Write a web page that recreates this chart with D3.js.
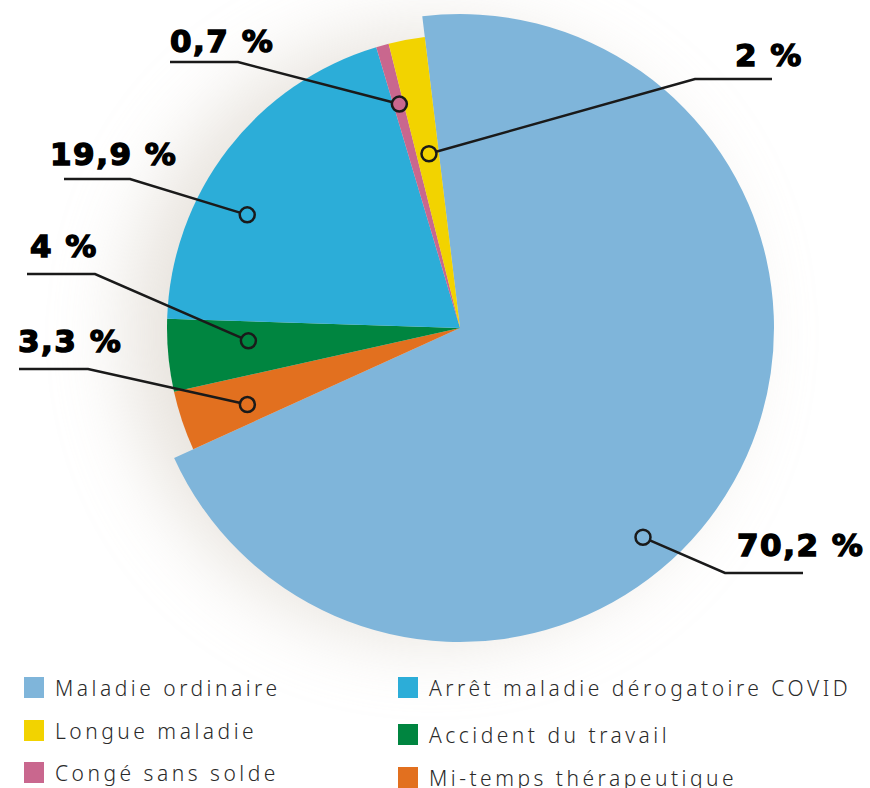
<!DOCTYPE html>
<html>
<head>
<meta charset="utf-8">
<script src="https://cdn.jsdelivr.net/npm/d3@7"></script>
<style>
  body { margin: 0; background: #fff; }
  svg { display: block; }
</style>
</head>
<body>
<script>
// data, in drawing order (clockwise from the big slice)
const categories = ["Maladie ordinaire", "Mi-temps thérapeutique", "Accident du travail",
    "Arrêt maladie dérogatoire COVID", "Congé sans solde", "Longue maladie"];
const values = [70.2, 3.3, 4, 19.9, 0.7, 2];
const valueLabels = ["70,2 %", "3,3 %", "4 %", "19,9 %", "0,7 %", "2 %"];
const colors = ["#7fb5da", "#e2701f", "#008540", "#2cadd8", "#c9678e", "#f2d300"];

// legend order
const legendOrder = ["Maladie ordinaire", "Arrêt maladie dérogatoire COVID", "Longue maladie",
    "Accident du travail", "Congé sans solde", "Mi-temps thérapeutique"];

const width = 870, height = 788;
const cx = 460, cy = 328;
const rSmall = 293, rBig = 314;
const deg = Math.PI / 180;

const svg = d3.select("body").append("svg")
    .attr("width", width)
    .attr("height", height);

const defs = svg.append("defs");
defs.append("filter").attr("id", "blur")
    .attr("x", "-50%").attr("y", "-50%").attr("width", "200%").attr("height", "200%")
    .append("feGaussianBlur").attr("stdDeviation", 38);

const g = svg.append("g").attr("transform", `translate(${cx},${cy})`);

// soft shadow behind the pie
g.append("circle")
    .attr("cx", -28).attr("cy", 6).attr("r", 305)
    .attr("fill", "#d8d0c6")
    .attr("opacity", 0.6)
    .attr("filter", "url(#blur)");

const pie = d3.pie().sort(null)
    .startAngle(-6.9 * deg)
    .endAngle(-6.9 * deg + 2 * Math.PI);

const arcs = pie(values);
const color = d3.scaleOrdinal().domain(categories).range(colors);

const arc = d3.arc().innerRadius(0)
    .outerRadius((d, i) => i === 0 ? rBig : rSmall);

g.selectAll("path.slice")
    .data(arcs)
    .join("path")
    .attr("class", "slice")
    .attr("d", (d, i) => arc(d, i))
    .attr("fill", (d, i) => color(categories[i]));

// label layout: marker radius, angle shift from slice middle, text anchor point, line elbow
const labelLayout = [
    { r: 278, shift: 19.5, tx: 737, ty: 556, elbow: [725, 573], end: 803 },
    { r: 226, shift: -1.3, tx: 18, ty: 352, elbow: [88, 369], end: 19 },
    { r: 212, shift: 1.9, tx: 30, ty: 257, elbow: [95, 274], end: 27 },
    { r: 241, shift: -9.6, tx: 50, ty: 165, elbow: [130, 179], end: 64 },
    { r: 232, shift: 0.2, tx: 170, ty: 52, elbow: [238, 62], end: 170 },
    { r: 177, shift: 0.4, tx: 735, ty: 66, elbow: [695, 79], end: 772 }
];

const labels = svg.append("g");

arcs.forEach((d, i) => {
    const L = labelLayout[i];
    const a = (d.startAngle + d.endAngle) / 2 + L.shift * deg;
    const mx = cx + L.r * Math.sin(a);
    const my = cy - L.r * Math.cos(a);
    labels.append("polyline")
        .attr("points", `${mx},${my} ${L.elbow[0]},${L.elbow[1]} ${L.end},${L.elbow[1]}`)
        .attr("fill", "none")
        .attr("stroke", "#1a1a1a")
        .attr("stroke-width", 2.5);
    labels.append("circle")
        .attr("cx", mx).attr("cy", my).attr("r", 7.5)
        .attr("fill", color(categories[i]))
        .attr("stroke", "#1a1a1a")
        .attr("stroke-width", 2.5);
    labels.append("text")
        .attr("x", L.tx).attr("y", L.ty)
        .attr("font-family", "DejaVu Sans")
        .attr("font-weight", "bold")
        .attr("font-size", 31)
        .attr("letter-spacing", 1.5)
        .attr("stroke", "#000")
        .attr("stroke-width", 1.4)
        .attr("fill", "#000")
        .text(valueLabels[i]);
});

// legend
const legendPos = [
    { x: 24, y: 688 }, { x: 398, y: 688 },
    { x: 24, y: 731 }, { x: 398, y: 735 },
    { x: 24, y: 773 }, { x: 398, y: 778 }
];

const legend = svg.append("g")
    .selectAll("g")
    .data(legendOrder)
    .join("g")
    .attr("transform", (d, i) => `translate(${legendPos[i].x},${legendPos[i].y})`);

legend.append("rect")
    .attr("x", 0).attr("y", -11)
    .attr("width", 20).attr("height", 21)
    .attr("fill", d => color(d));

legend.append("text")
    .attr("x", 31).attr("y", 7.5)
    .attr("font-family", "Noto Sans")
    .attr("font-weight", 300)
    .attr("font-size", 21)
    .attr("letter-spacing", 3.5)
    .attr("fill", "#2a2a2a")
    .text(d => d);
</script>
</body>
</html>
